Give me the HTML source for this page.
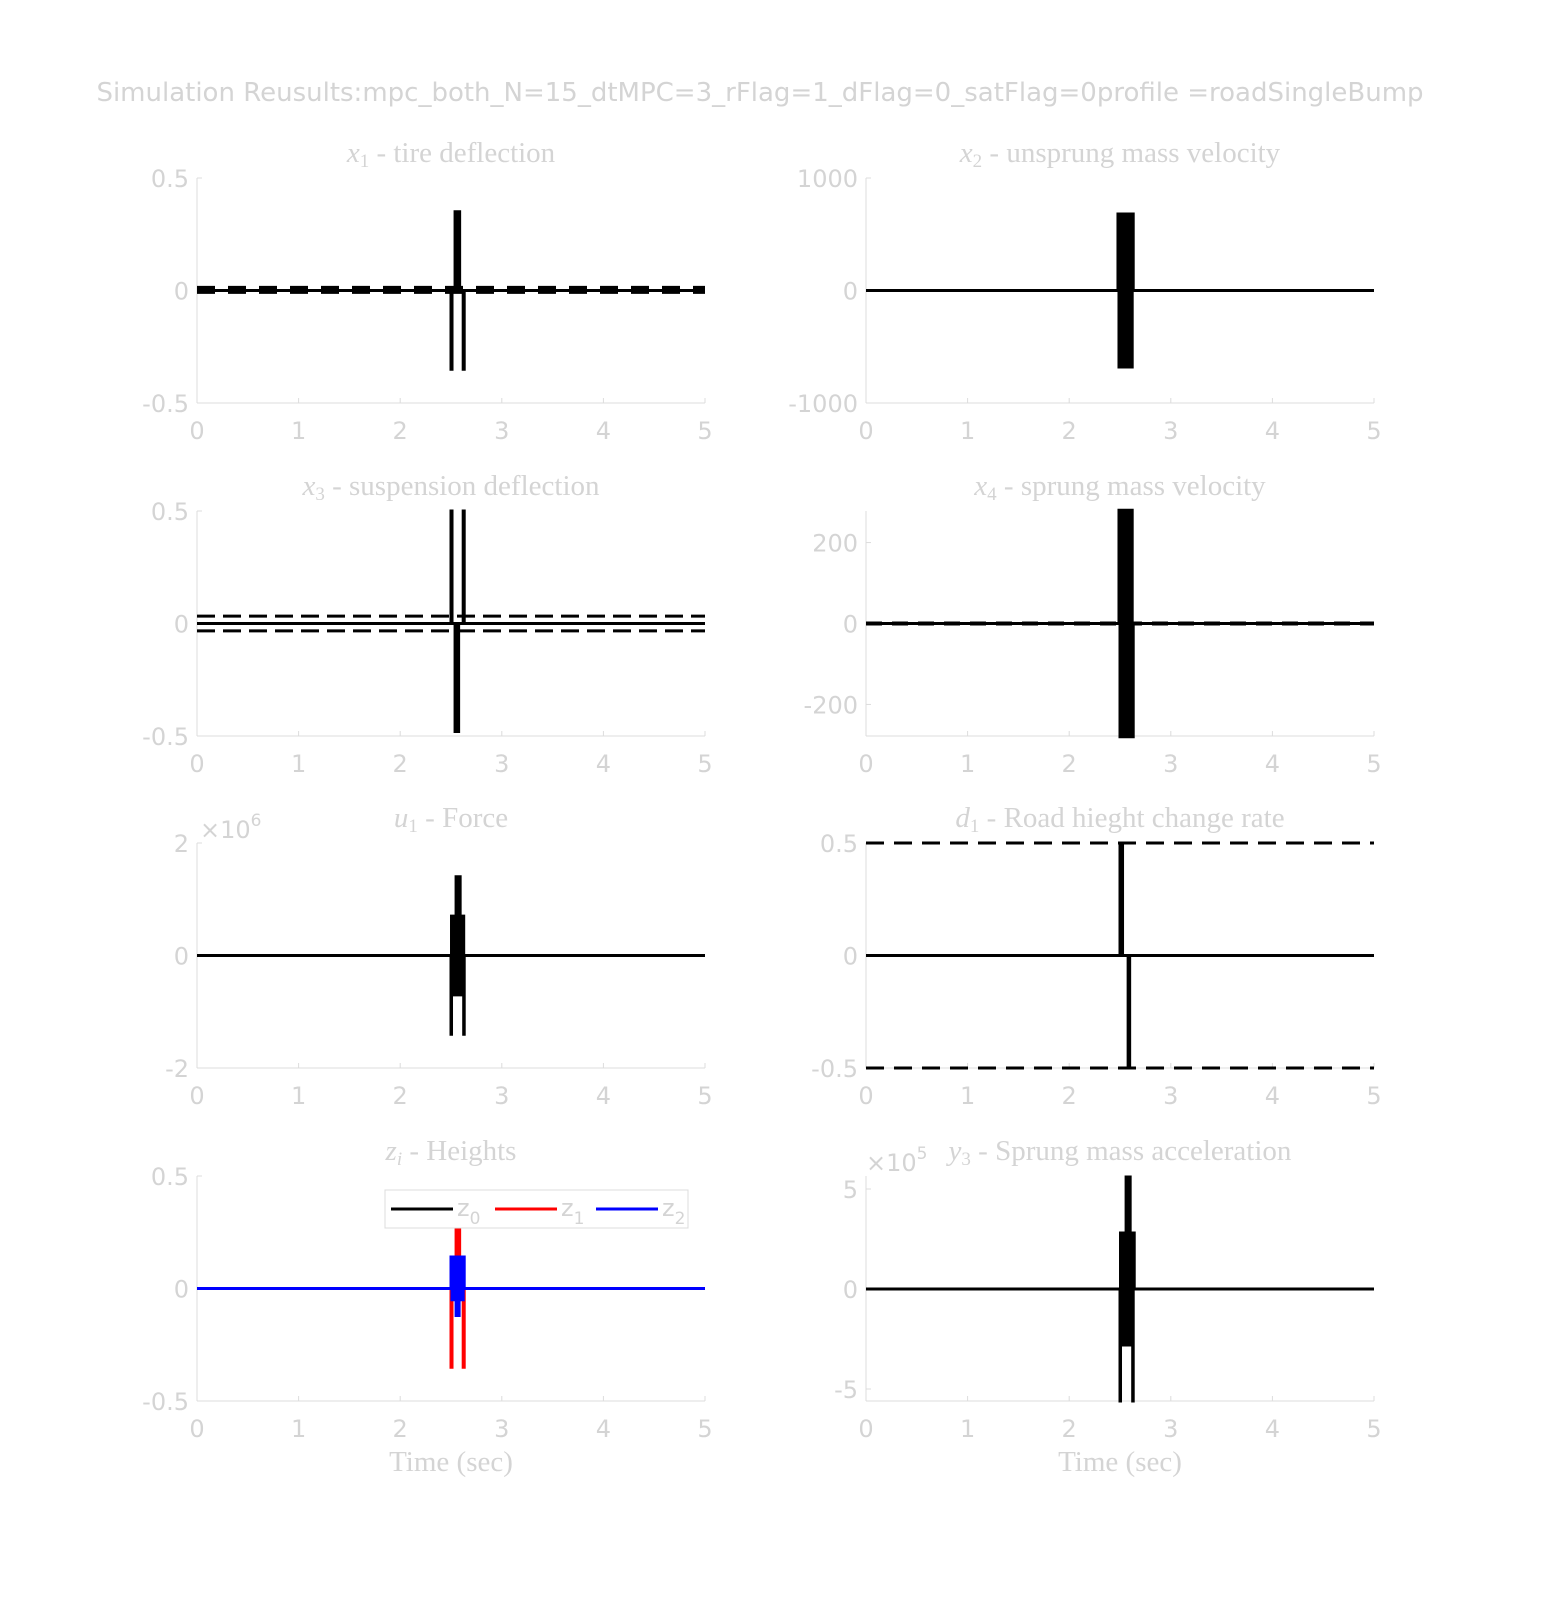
<!DOCTYPE html>
<html><head><meta charset="utf-8"><style>
body{margin:0;background:#fff}
svg text{fill:#d4d4d4}
.tk{font-family:"DejaVu Sans","Liberation Sans",sans-serif;font-size:24px}
.tt{font-family:"Liberation Serif",serif;font-size:29px}
</style></head><body>
<svg id="fig" width="1563" height="1615" xmlns="http://www.w3.org/2000/svg">
<text x="760" y="101" text-anchor="middle" class="tk" style="font-size:26px">Simulation Reusults:mpc_both_N=15_dtMPC=3_rFlag=1_dFlag=0_satFlag=0profile =roadSingleBump</text>
</svg>
<script>
// ---- data ----
const xTicks=[0,1,2,3,4,5];
const x1T=[0,2.5,2.51,2.54,2.545,2.55,2.555,2.56,2.565,2.57,2.575,2.58,2.585,2.59,2.62,2.63,5];
const x1Y=[0,-0.35,0,0.35,0,0.35,0,0.35,0,0.35,0,0.35,0,0,-0.35,0,0];
const x1Lim=[0.003,0.003];
const x2T=[0,2.48,2.49,2.5,2.51,2.52,2.53,2.54,2.55,2.56,2.57,2.58,2.59,2.6,2.61,2.62,2.63,5];
const x2Y=[0,680,-680,680,-680,680,-680,680,-680,680,-680,680,-680,680,-680,680,0,0];
const x3T=[0,2.5,2.51,2.54,2.545,2.55,2.555,2.56,2.565,2.57,2.575,2.58,2.62,2.63,5];
const x3Y=[0,0.5,0,-0.48,0,-0.48,0,-0.48,0,-0.48,0,0,0.5,0,0];
const x3Lim=[0.033,-0.033];
const x4T=[0,2.49,2.5,2.51,2.52,2.53,2.54,2.55,2.56,2.57,2.58,2.59,2.6,2.61,2.62,2.63,5];
const x4Y=[0,280,-280,280,-280,280,-280,280,-280,280,-280,280,-280,280,-280,0,0];
const u1T=[0,2.5,2.505,2.51,2.52,2.53,2.54,2.55,2.555,2.56,2.565,2.57,2.575,2.58,2.59,2.6,2.61,2.62,2.625,2.63,5];
const u1Y=[0,-1.4,0.7,-0.7,0.7,-0.7,0.7,1.4,-0.7,1.4,-0.7,1.4,-0.7,1.4,-0.7,0.7,-0.7,0.7,-1.4,0,0];
const d1T=[0,2.5,2.505,2.51,2.515,2.52,2.525,2.53,2.58,2.585,2.59,2.595,2.6,5];
const d1Y=[0,0.5,0,0.5,0,0.5,0,0,-0.5,0,-0.5,0,0,0];
const d1Lim=[0.5,-0.5];
const z1T=[0,2.5,2.51,2.55,2.555,2.56,2.565,2.57,2.575,2.58,2.585,2.59,2.62,2.63,5];
const z1Y=[0,-0.35,0,0.28,0,0.28,0,0.28,0,0.28,0,0,-0.35,0,0];
const z2T=[0,2.5,2.51,2.52,2.53,2.54,2.55,2.555,2.56,2.565,2.57,2.58,2.59,2.6,2.61,2.62,2.63,5];
const z2Y=[0,0.14,-0.05,0.14,-0.05,0.14,-0.12,0.14,-0.12,0.14,-0.12,0.14,-0.05,0.14,-0.05,0.14,0,0];
const y3T=[0,2.5,2.505,2.51,2.52,2.53,2.54,2.55,2.56,2.565,2.57,2.575,2.58,2.585,2.59,2.6,2.61,2.62,2.625,2.63,2.64,5];
const y3Y=[0,-5.6,2.8,-2.8,2.8,-2.8,2.8,-2.8,5.6,-2.8,5.6,-2.8,5.6,-2.8,5.6,-2.8,2.8,-2.8,-5.6,2.8,0,0];

const NS="http://www.w3.org/2000/svg";
const svg=document.getElementById('fig');
function mk(tag,attrs,parent){const e=document.createElementNS(NS,tag);for(const k in attrs)e.setAttribute(k,attrs[k]);(parent||svg).appendChild(e);return e;}

function axes(name,x0,y0,w,h,ymin,ymax,yTicks,yLabels,title,xlabel){
  const g=mk('g',{});
  
  
  const sx=t=>x0+t/5*w, sy=v=>y0+h-(v-ymin)/(ymax-ymin)*h;
  mk('line',{x1:x0,y1:y0,x2:x0,y2:y0+h,stroke:'#dcdcdc','stroke-width':1},g);
  mk('line',{x1:x0,y1:y0+h,x2:x0+w,y2:y0+h,stroke:'#dcdcdc','stroke-width':1},g);
  xTicks.forEach(t=>{
    mk('line',{x1:sx(t),y1:y0+h,x2:sx(t),y2:y0+h-5,stroke:'#dcdcdc'},g);
    const tx=mk('text',{x:sx(t),y:y0+h+36,'text-anchor':'middle',class:'tk'},g);tx.textContent=t;
    
    
  });
  yTicks.forEach((v,i)=>{
    mk('line',{x1:x0,y1:sy(v),x2:x0+5,y2:sy(v),stroke:'#dcdcdc'},g);
    const tx=mk('text',{x:x0-8,y:sy(v)+9,'text-anchor':'end',class:'tk'},g);tx.textContent=yLabels[i];
    
    
  });
  const tt=mk('text',{x:x0+w/2,y:y0-16,'text-anchor':'middle',class:'tt'},g);tt.innerHTML=title;
  
  
  if(xlabel){const xl=mk('text',{x:x0+w/2,y:y0+h+70,'text-anchor':'middle',class:'tt'},g);xl.textContent=xlabel;
    
    }
  return {g,sx,sy};
}
function stairs(a,T,Y,color,sw,name){
  let d='M'+a.sx(T[0])+','+a.sy(Y[0]);
  for(let i=1;i<T.length;i++){d+=' L'+a.sx(T[i])+','+a.sy(Y[i-1])+' L'+a.sx(T[i])+','+a.sy(Y[i]);}
  const p=mk('path',{d:d,fill:'none',stroke:color,'stroke-width':sw},a.g);
  
  
}
function hline(a,v,sw,dash,name){
  const l=mk('line',{x1:a.sx(0),x2:a.sx(5),y1:a.sy(v),y2:a.sy(v),stroke:'#000','stroke-width':sw,'stroke-dasharray':dash},a.g);
  
  
}
const W=508,H=225,L=197,R=866;
const sub='<tspan font-style="italic">';
// row1
let a=axes('x1-axes',L,178,W,H,-0.5,0.5,[-0.5,0,0.5],['-0.5','0','0.5'],sub+'x</tspan><tspan font-size="19" dy="5">1</tspan><tspan dy="-5"> - tire deflection</tspan>');
stairs(a,x1T,x1Y,'#000',3,'x1-line');
hline(a,x1Lim[0],8,'18 13','x1-bound-upper');
a=axes('x2-axes',R,178,W,H,-1000,1000,[-1000,0,1000],['-1000','0','1000'],sub+'x</tspan><tspan font-size="19" dy="5">2</tspan><tspan dy="-5"> - unsprung mass velocity</tspan>');
stairs(a,x2T,x2Y,'#000',3,'x2-line');
// row2
a=axes('x3-axes',L,511,W,H,-0.5,0.5,[-0.5,0,0.5],['-0.5','0','0.5'],sub+'x</tspan><tspan font-size="19" dy="5">3</tspan><tspan dy="-5"> - suspension deflection</tspan>');
stairs(a,x3T,x3Y,'#000',3,'x3-line');
hline(a,x3Lim[0],3,'18 8','x3-bound-upper');hline(a,x3Lim[1],3,'18 8','x3-bound-lower');
a=axes('x4-axes',R,511,W,H,-278,278,[-200,0,200],['-200','0','200'],sub+'x</tspan><tspan font-size="19" dy="5">4</tspan><tspan dy="-5"> - sprung mass velocity</tspan>');
stairs(a,x4T,x4Y,'#000',3,'x4-line');
hline(a,0,4,'16 10','x4-bound');
// row3
a=axes('u1-axes',L,843,W,H,-2,2,[-2,0,2],['-2','0','2'],sub+'u</tspan><tspan font-size="19" dy="5">1</tspan><tspan dy="-5"> - Force</tspan>');
stairs(a,u1T,u1Y,'#000',3,'u1-line');
let ex=mk('text',{x:200,y:838,class:'tk'});ex.innerHTML='×10<tspan font-size="17" dy="-12">6</tspan>';


a=axes('d1-axes',R,843,W,H,-0.5,0.5,[-0.5,0,0.5],['-0.5','0','0.5'],sub+'d</tspan><tspan font-size="19" dy="5">1</tspan><tspan dy="-5"> - Road hieght change rate</tspan>');
stairs(a,d1T,d1Y,'#000',3,'d1-line');
hline(a,d1Lim[0],3,'18 10','d1-bound-upper');hline(a,d1Lim[1],3,'18 10','d1-bound-lower');
// row4
a=axes('z-axes',L,1176,W,H,-0.5,0.5,[-0.5,0,0.5],['-0.5','0','0.5'],sub+'z</tspan><tspan font-size="19" dy="5" font-style="italic">i</tspan><tspan dy="-5"> - Heights</tspan>','Time (sec)');
hline(a,0,3,'none','z0-line');
stairs(a,z1T,z1Y,'#f00',3,'z1-line');
stairs(a,z2T,z2Y,'#00f',3,'z2-line');
const lg=mk('g',{});


mk('rect',{x:385,y:1190,width:303,height:38,fill:'#fff',stroke:'#dcdcdc'},lg);
[['#000','0',391],['#f00','1',495],['#00f','2',596]].forEach(([c,s,x])=>{
  const l=mk('line',{x1:x,x2:x+62,y1:1209,y2:1209,stroke:c,'stroke-width':3},lg);
  
  
  const t=mk('text',{x:x+66,y:1216,class:'tk'},lg);t.innerHTML='z<tspan font-size="17" dy="8">'+s+'</tspan>';
  
  
});
a=axes('y3-axes',R,1176,W,H,-5.6,5.65,[-5,0,5],['-5','0','5'],sub+'y</tspan><tspan font-size="19" dy="5">3</tspan><tspan dy="-5"> - Sprung mass acceleration</tspan>','Time (sec)');
stairs(a,y3T,y3Y,'#000',3,'y3-line');
ex=mk('text',{x:866,y:1171,class:'tk'});ex.innerHTML='×10<tspan font-size="17" dy="-12">5</tspan>';


</script>
</body></html>
